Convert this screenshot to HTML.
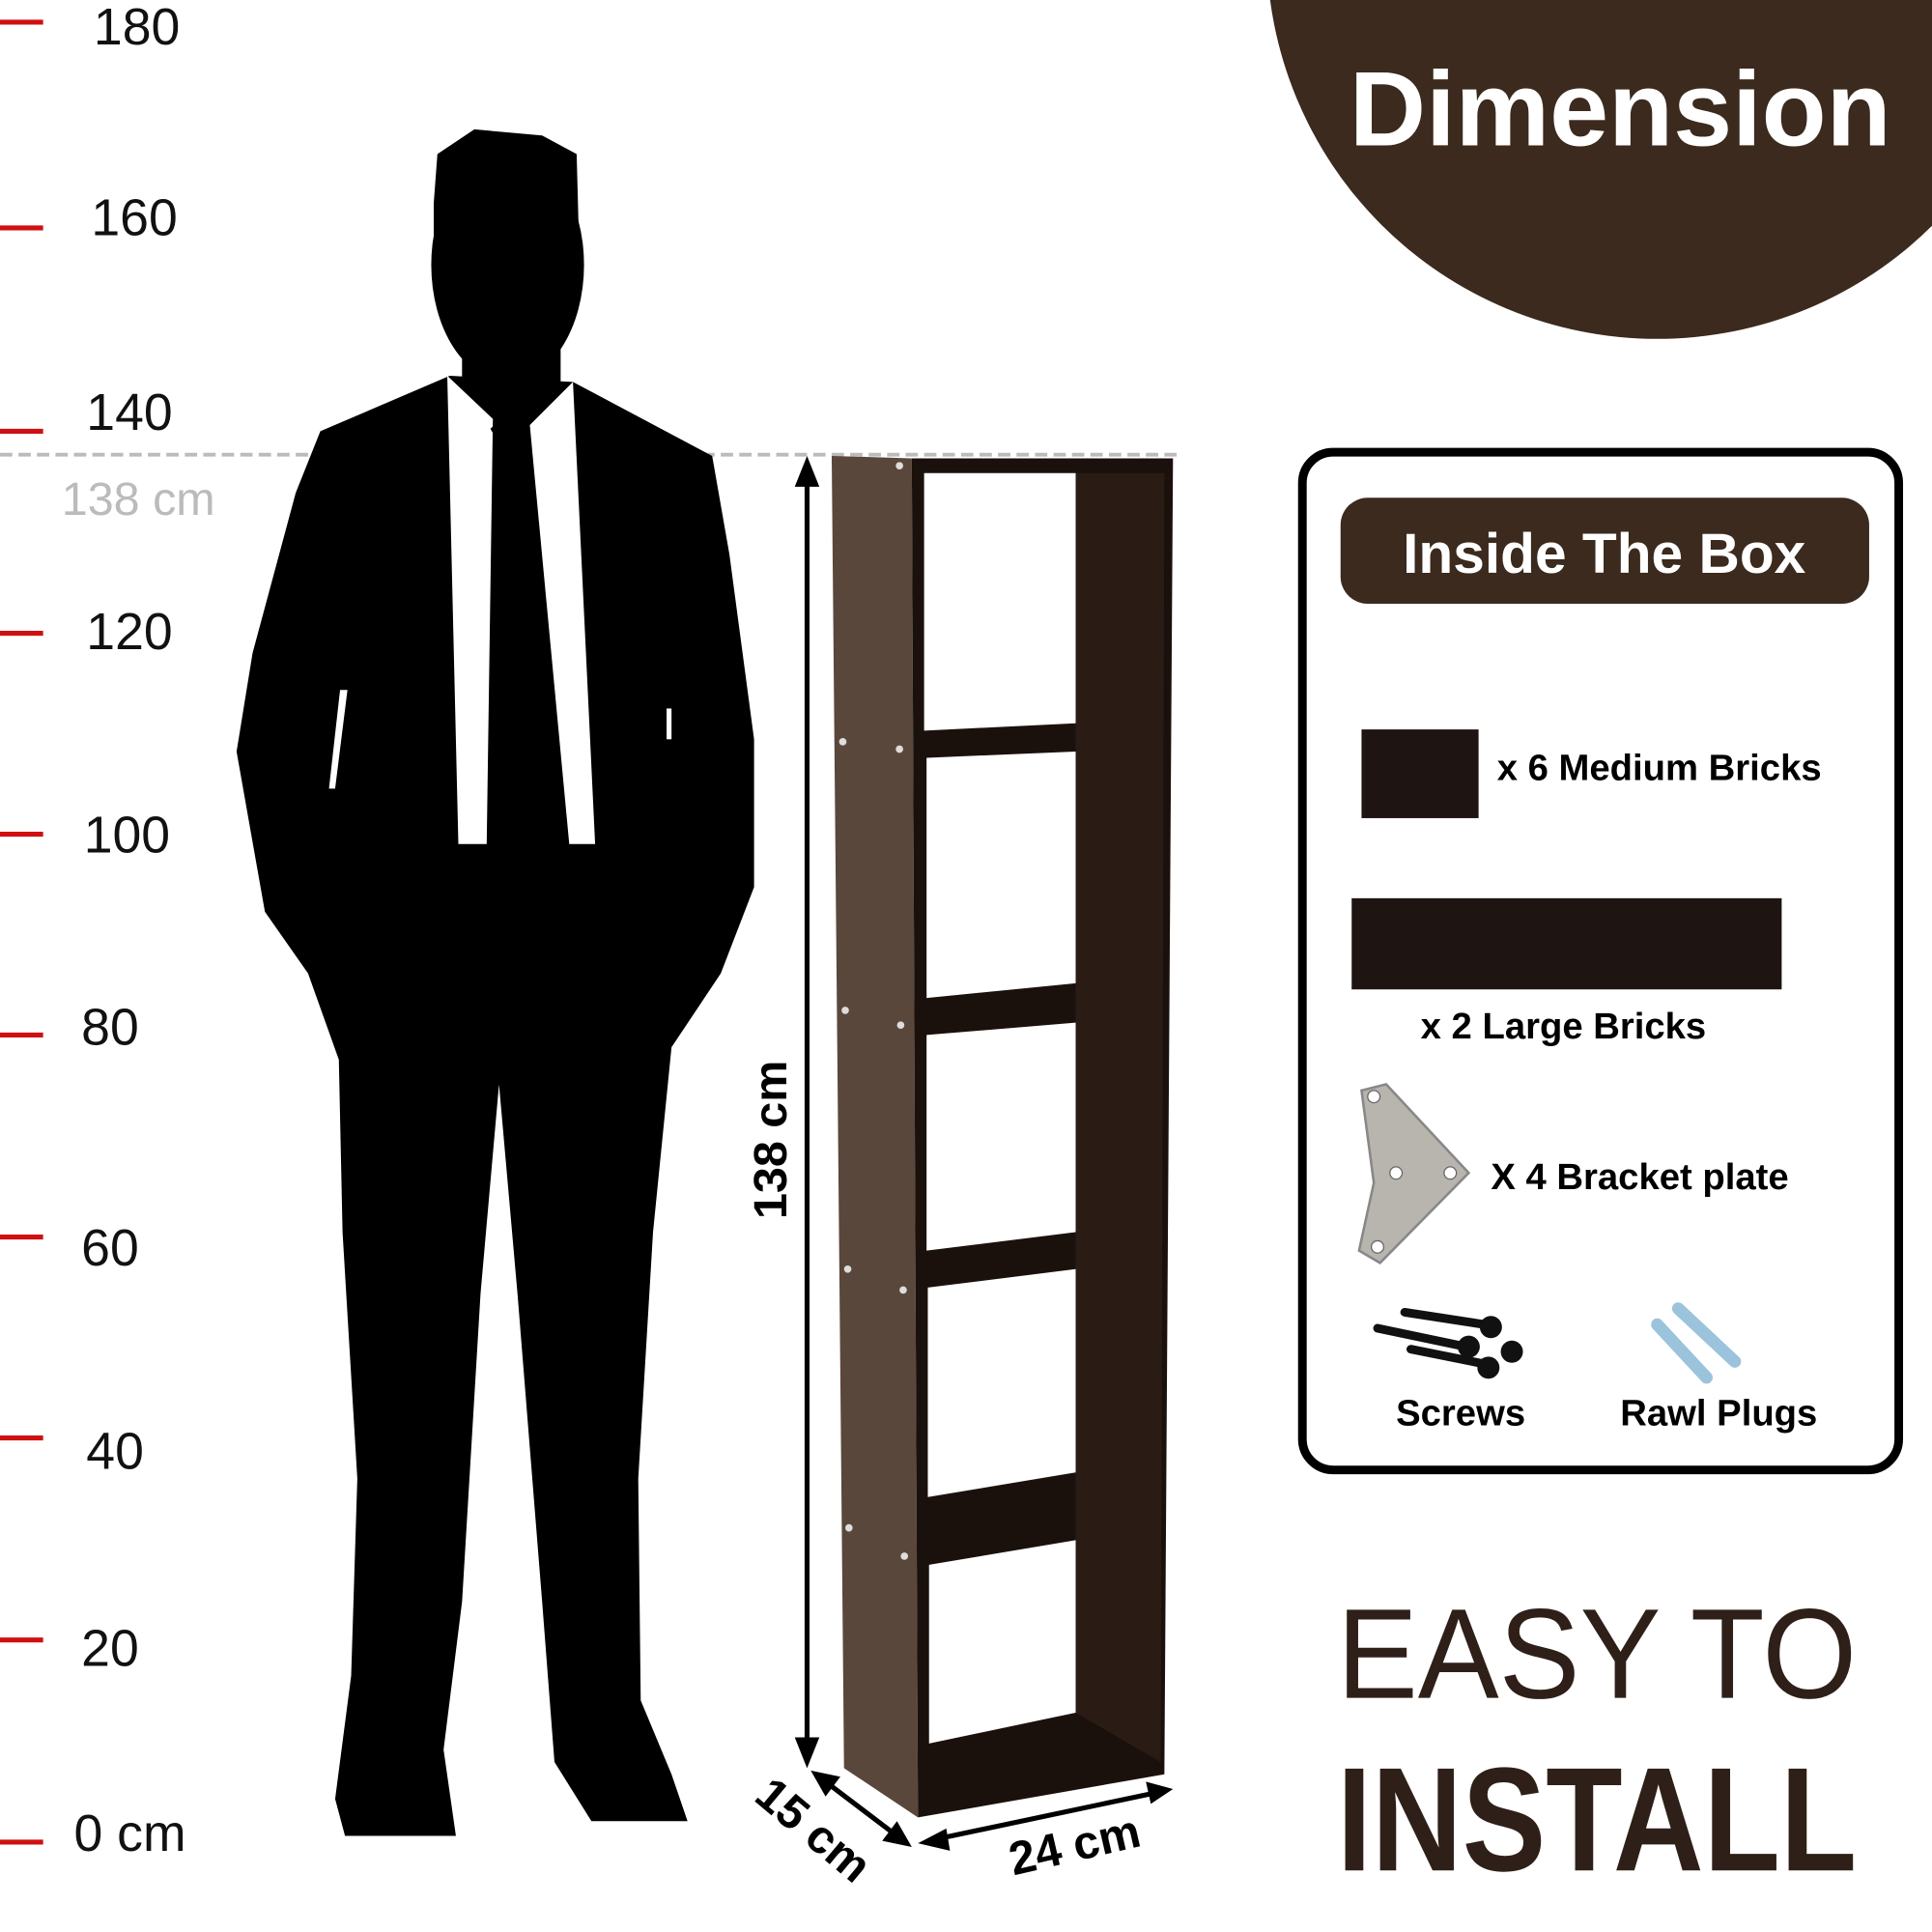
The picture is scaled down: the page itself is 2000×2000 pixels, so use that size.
<!DOCTYPE html>
<html><head><meta charset="utf-8"><style>
html,body{margin:0;padding:0;background:#fff;}
svg{display:block;}
text{font-family:"Liberation Sans",sans-serif;}
</style></head><body>
<svg width="2000" height="2000" viewBox="0 0 1568 1568" xmlns="http://www.w3.org/2000/svg">
<rect width="1568" height="1568" fill="#fff"/>
<g stroke="#d01010" stroke-width="4">
<line x1="0" y1="18" x2="35" y2="18"/><line x1="0" y1="185" x2="35" y2="185"/>
<line x1="0" y1="350" x2="35" y2="350"/><line x1="0" y1="514" x2="35" y2="514"/>
<line x1="0" y1="677" x2="35" y2="677"/><line x1="0" y1="840" x2="35" y2="840"/>
<line x1="0" y1="1004" x2="35" y2="1004"/><line x1="0" y1="1167" x2="35" y2="1167"/>
<line x1="0" y1="1331" x2="35" y2="1331"/><line x1="0" y1="1495" x2="35" y2="1495"/>
</g>
<g font-size="42" fill="#111">
<text x="76" y="36">180</text><text x="74" y="191">160</text><text x="70" y="349">140</text>
<text x="70" y="527">120</text><text x="68" y="692">100</text><text x="66" y="848">80</text>
<text x="66" y="1027">60</text><text x="70" y="1192">40</text><text x="66" y="1352">20</text>
<text x="60" y="1502">0 cm</text>
</g>
<line x1="0" y1="369" x2="955" y2="369" stroke="#bbb" stroke-width="3" stroke-dasharray="10,5"/>
<text x="50" y="418" font-size="38" fill="#bbb">138 cm</text>
<g fill="#000">
<ellipse cx="412" cy="215" rx="62" ry="95"/>
<path d="M352,165 L355,125 L385,105 L440,110 L468,125 L470,200 L352,200 Z"/>
<rect x="375" y="250" width="80" height="80"/>
<polygon points="365,305 260,350 240,400 205,530 192,610 215,740 250,790 275,860 278,1000 290,1200 285,1360 272,1460 280,1490 370,1490 360,1420 375,1300 390,1050 405,880 420,1050 440,1300 450,1430 480,1478 558,1478 545,1440 520,1380 518,1200 530,1000 545,850 585,790 612,720 612,600 592,450 578,370 465,310"/>
</g>
<g fill="#fff">
<polygon points="363,305 400,340 395,685 372,685"/>
<polygon points="465,310 430,345 462,685 483,685"/>
<polygon points="276,560 282,560 272,640 267,640"/>
<polygon points="541,575 545,575 545,600 541,600"/>
</g>
<polygon points="398,348 412,335 430,350 418,365 440,700 395,700 408,365" fill="#000"/>
<polygon points="675,370 740,372 745,1475 685,1435" fill="#5a473b"/>
<polygon points="740,372 952,372 945,1440 745,1475" fill="#1a110d"/>
<polygon points="873,384 945,384 942,1430 873,1390" fill="#2a1c15"/>
<g fill="#fff">
<polygon points="750,384 873,384 873,587 750,593"/>
<polygon points="752,615 873,610 873,798 752,810"/>
<polygon points="752,840 873,830 873,1000 752,1015"/>
<polygon points="753,1045 873,1030 873,1195 753,1215"/>
<polygon points="754,1270 873,1250 873,1390 754,1415"/>
</g>
<g fill="#ddd">
<circle cx="684" cy="602" r="3"/><circle cx="730" cy="608" r="3"/>
<circle cx="686" cy="820" r="3"/><circle cx="731" cy="832" r="3"/>
<circle cx="688" cy="1030" r="3"/><circle cx="733" cy="1047" r="3"/>
<circle cx="689" cy="1240" r="3"/><circle cx="734" cy="1263" r="3"/>
<circle cx="730" cy="378" r="3"/>
</g>
<g stroke="#000" stroke-width="4" fill="#000">
<line x1="655" y1="385" x2="655" y2="1420"/>
<line x1="670" y1="1446" x2="728" y2="1490"/>
<line x1="758" y1="1493" x2="938" y2="1455"/>
</g>
<polygon points="655,370 645,395 665,395" fill="#000"/>
<polygon points="655,1435 645,1410 665,1410" fill="#000"/>
<polygon points="658,1437 682,1442 670,1458" fill="#000"/>
<polygon points="740,1499 716,1494 728,1478" fill="#000"/>
<polygon points="745,1496 768,1484 771,1502" fill="#000"/>
<polygon points="952,1452 930,1446 934,1464" fill="#000"/>
<text transform="translate(638,925) rotate(-90)" font-size="38" font-weight="bold" text-anchor="middle">138 cm</text>
<text transform="translate(652,1495) rotate(40)" font-size="38" font-weight="bold" text-anchor="middle">15 cm</text>
<text transform="translate(875,1510) rotate(-13)" font-size="38" font-weight="bold" text-anchor="middle">24 cm</text>
<circle cx="1345" cy="-42" r="317" fill="#3b2a1d"/>
<text x="1315" y="118" font-size="86" font-weight="bold" fill="#fff" text-anchor="middle">Dimension</text>
<rect x="1057" y="367" width="484" height="826" rx="25" fill="#fff" stroke="#000" stroke-width="7"/>
<rect x="1088" y="404" width="429" height="86" rx="22" fill="#3b2a1d"/>
<text x="1302" y="465" font-size="46" font-weight="bold" fill="#fff" text-anchor="middle">Inside The Box</text>
<rect x="1105" y="592" width="95" height="72" fill="#1e1513"/>
<text x="1215" y="633" font-size="30" font-weight="bold">x 6 Medium Bricks</text>
<rect x="1097" y="729" width="349" height="74" fill="#1e1513"/>
<text x="1153" y="843" font-size="30" font-weight="bold">x 2 Large Bricks</text>
<polygon points="1105,885 1125,880 1192,952 1120,1025 1103,1015 1115,960" fill="#b8b4ae" stroke="#888" stroke-width="2"/>
<g fill="#fff" stroke="#666"><circle cx="1115" cy="890" r="5"/><circle cx="1133" cy="952" r="5"/><circle cx="1177" cy="952" r="5"/><circle cx="1118" cy="1012" r="5"/></g>
<text x="1210" y="965" font-size="30" font-weight="bold">X 4 Bracket plate</text>
<g stroke="#111" stroke-width="7" stroke-linecap="round">
<line x1="1140" y1="1065" x2="1205" y2="1075"/><line x1="1118" y1="1078" x2="1185" y2="1092"/><line x1="1145" y1="1095" x2="1205" y2="1107"/>
</g>
<g fill="#111"><circle cx="1210" cy="1077" r="9"/><circle cx="1192" cy="1093" r="9"/><circle cx="1227" cy="1097" r="9"/><circle cx="1208" cy="1110" r="9"/></g>
<g stroke="#9cc3dc" stroke-width="10" stroke-linecap="round">
<line x1="1362" y1="1062" x2="1408" y2="1105"/><line x1="1345" y1="1075" x2="1385" y2="1118"/>
</g>
<text x="1133" y="1157" font-size="30" font-weight="bold">Screws</text>
<text x="1315" y="1157" font-size="30" font-weight="bold">Rawl Plugs</text>
<text x="1085" y="1378" font-size="104" fill="#2e2018" textLength="422" lengthAdjust="spacingAndGlyphs">EASY TO</text>
<text x="1085" y="1518" font-size="120" font-weight="bold" fill="#2e2018" textLength="422" lengthAdjust="spacingAndGlyphs">INSTALL</text>
</svg>
</body></html>
